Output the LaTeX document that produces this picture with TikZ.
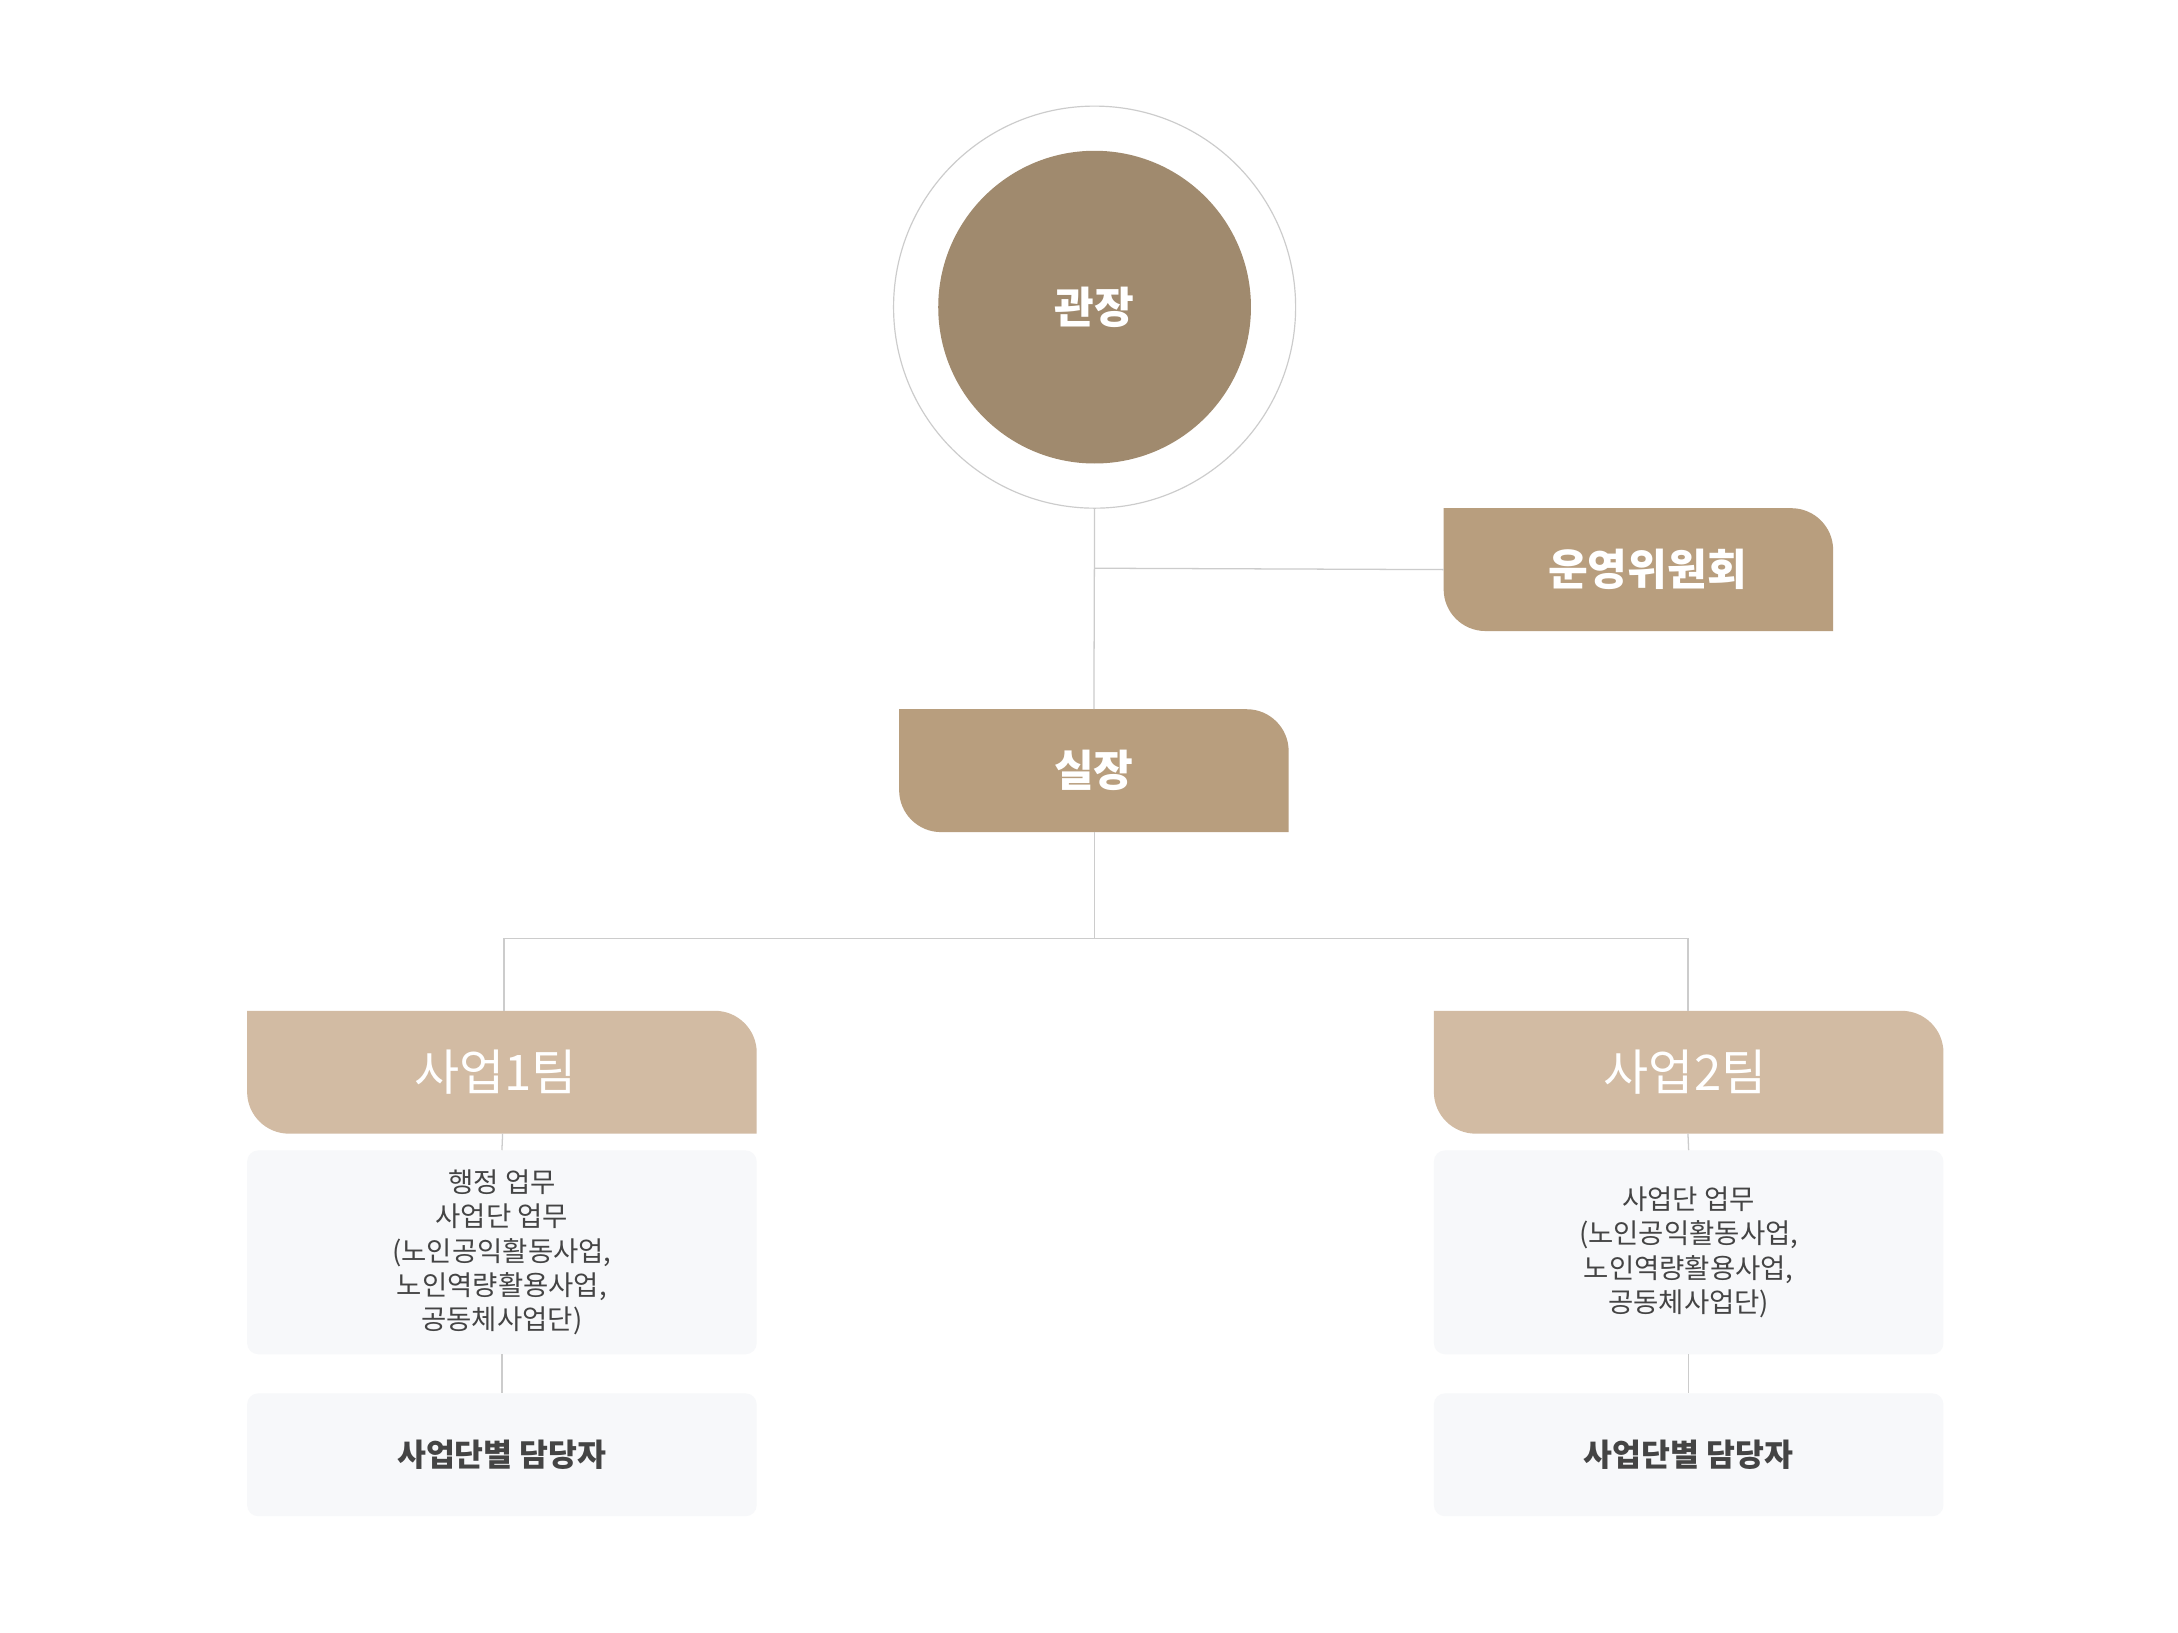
\documentclass[tikz,border=0pt]{standalone}
\usepackage{fontspec}
\newfontfamily\kr{Noto Sans CJK KR}
\newfontfamily\krm{Noto Sans CJK KR Medium}
\definecolor{ceoc}{HTML}{A08A6E}
\definecolor{midc}{HTML}{B89E7E}
\definecolor{teamc}{HTML}{D2BBA3}
\definecolor{detc}{HTML}{F7F8FA}
\definecolor{linec}{HTML}{CCCCCC}
\definecolor{txtc}{HTML}{444444}
\newcommand{\tagshape}[5]{\fill[#5] (#1,#3) -- ({#2-30},#3) arc[start angle=90,end angle=0,radius=1.5cm] -- (#2,#4) -- ({#1+30},#4) arc[start angle=270,end angle=180,radius=1.5cm] -- cycle;}
\begin{document}
\begin{tikzpicture}[x=0.05cm,y=0.05cm,
  lbl/.style={text=white,font=\kr\bfseries\fontsize{44}{50}\selectfont,inner sep=0},
  tlbl/.style={text=white,font=\kr\fontsize{50}{56}\selectfont,inner sep=0},
  dbox/.style={fill=detc,rounded corners=0.4cm,minimum width=18.25cm,inner sep=0,text=txtc},
  conn/.style={draw=linec,line width=1.3pt}]
\useasboundingbox (0,0) rectangle (1560,1169);
\fill[white] (0,0) rectangle (1560,1169);
% CEO
\draw[linec,line width=1.2pt] (784,949) circle[radius=7.2cm];
\fill[ceoc] (784,949) circle[radius=5.6cm];
\node[lbl] (ceo) at (784,949) {관장};
\coordinate (ceob) at (784,805);
% boxes
\tagshape{1034}{1313}{805}{717}{midc}
\node[lbl] (com) at (1180,761) {운영위원회};
\tagshape{644}{923}{661}{573}{midc}
\node[lbl] (sil) at (783.5,617) {실장};
\tagshape{177}{542}{445}{357}{teamc}
\node[tlbl] (t1) at (355,401) {사업1팀};
\tagshape{1027}{1392}{445}{357}{teamc}
\node[tlbl] (t2) at (1207,401) {사업2팀};
\coordinate (t1b) at (360,357);
\coordinate (t2b) at (1209,357);
\coordinate (t1t) at (361,445);
\coordinate (t2t) at (1209,445);
\node[dbox,minimum height=7.3cm,align=center,font=\kr\fontsize{28}{35}\selectfont] (d1) at (359.5,272) {행정 업무\\사업단 업무\\(노인공익활동사업,\\노인역량활용사업,\\공동체사업단)};
\node[dbox,minimum height=7.3cm,align=center,font=\kr\fontsize{28}{35}\selectfont] (d2) at (1209.5,272) {사업단 업무\\(노인공익활동사업,\\노인역량활용사업,\\공동체사업단)};
\node[dbox,minimum height=4.4cm,font=\kr\bfseries\fontsize{32}{38}\selectfont] (b1) at (359.5,127) {사업단별 담당자};
\node[dbox,minimum height=4.4cm,font=\kr\bfseries\fontsize{32}{38}\selectfont] (b2) at (1209.5,127) {사업단별 담당자};
% connectors
\coordinate (j1) at (784,762);
\coordinate (j2) at (784,497);
\draw[conn] (ceob) -- (sil.north |- 0,661);
\draw[conn] (j1) -- (com.west -| 1034,0);
\draw[conn] (784,573) -- (j2);
\draw[conn] (t1t) |- (j2) -| (t2t);
\draw[conn] (t1b) -- (d1.north);
\draw[conn] (t2b) -- (d2.north);
\draw[conn] (d1.south) -- (b1.north);
\draw[conn] (d2.south) -- (b2.north);
\end{tikzpicture}
\end{document}
